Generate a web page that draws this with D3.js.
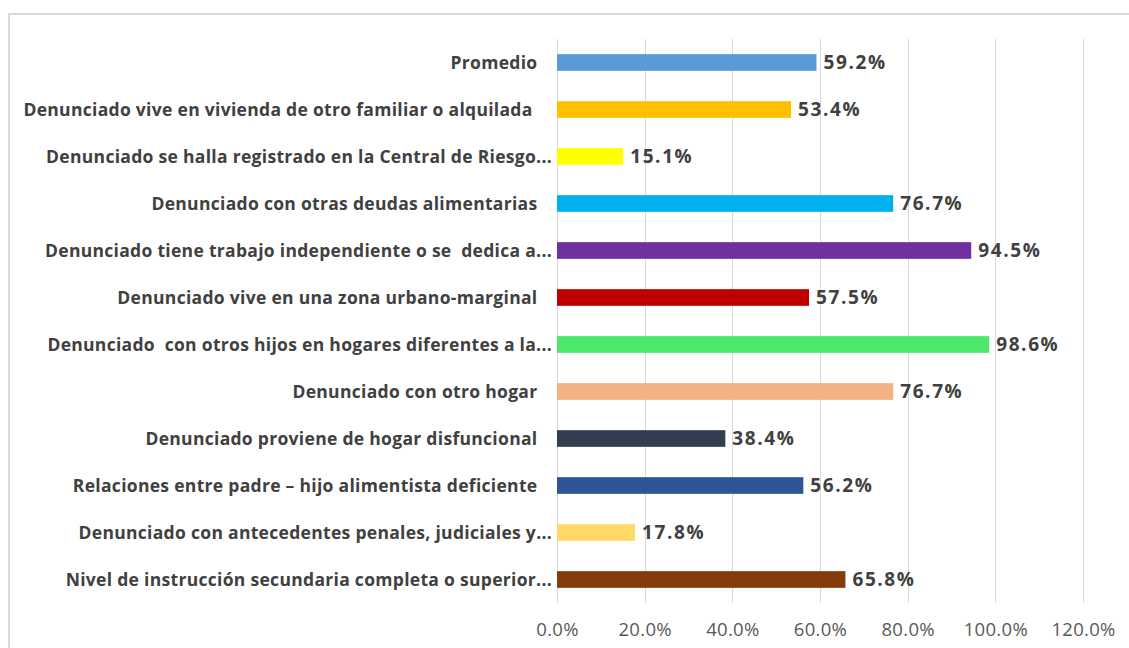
<!DOCTYPE html>
<html>
<head>
<meta charset="utf-8">
<script src="https://cdn.jsdelivr.net/npm/d3@7"></script>
<style>
  body { margin: 0; background: #fff; }
  svg { display: block; }
</style>
</head>
<body>
<div id="chart"></div>
<script>

// data, top row first
var categories = [
    "Promedio   ",
    "Denunciado vive en vivienda de otro familiar o alquilada    ",
    "Denunciado se halla registrado en la Central de Riesgo...",
    "Denunciado con otras deudas alimentarias   ",
    "Denunciado tiene trabajo independiente o se  dedica a...",
    "Denunciado vive en una zona urbano-marginal   ",
    "Denunciado  con otros hijos en hogares diferentes a la...",
    "Denunciado con otro hogar   ",
    "Denunciado proviene de hogar disfuncional   ",
    "Relaciones entre padre \u2013 hijo alimentista deficiente   ",
    "Denunciado con antecedentes penales, judiciales y...",
    "Nivel de instrucción secundaria completa o superior..."
];

var values = [59.2, 53.4, 15.1, 76.7, 94.5, 57.5, 98.6, 76.7, 38.4, 56.2, 17.8, 65.8];

var colors = ["#5B9BD5", "#FFC000", "#FFFF00", "#00B0F0", "#7030A0", "#C00000",
    "#4BE86B", "#F4B183", "#333F50", "#2F5597", "#FFD966", "#843C0C"];

var tickValues = [0, 20, 40, 60, 80, 100, 120];

var W = 1129, H = 648;
var margin = { top: 39, right: 46, bottom: 45, left: 557 };

var svg = d3.select("#chart").append("svg")
    .attr("width", W)
    .attr("height", H);

// chart frame
svg.append("rect")
    .attr("x", 9)
    .attr("y", 14)
    .attr("width", W + 10)
    .attr("height", H + 10)
    .attr("fill", "none")
    .attr("stroke", "#d9d9d9")
    .attr("stroke-width", 2);

var g = svg.append("g")
    .attr("transform", "translate(" + margin.left + "," + margin.top + ")");

var x = d3.scaleLinear()
    .domain([0, 120])
    .range([0, 526]);

var y = d3.scaleBand()
    .domain(categories)
    .range([0, 564])
    .paddingInner(0.645)
    .paddingOuter(0.3225);

// gridlines
g.selectAll(".grid")
    .data(tickValues)
    .enter().append("line")
    .attr("class", "grid")
    .attr("x1", function (d) { return Math.round(x(d)) + 0.5; })
    .attr("x2", function (d) { return Math.round(x(d)) + 0.5; })
    .attr("y1", 0)
    .attr("y2", 564)
    .attr("stroke", "#d9d9d9")
    .attr("stroke-width", 1);

// x tick labels
var xAxis = d3.axisBottom(x)
    .tickValues(tickValues)
    .tickSize(0)
    .tickPadding(20)
    .tickFormat(function (d) { return d.toFixed(1) + "%"; });

g.append("g")
    .attr("class", "x axis")
    .attr("transform", "translate(0,564)")
    .call(xAxis)
    .call(function (sel) { sel.select(".domain").remove(); })
    .selectAll("text")
    .style("font-family", "'Open Sans', sans-serif")
    .style("font-size", "18.5px")
    .style("letter-spacing", "0.3px")
    .attr("fill", "#595959");

// category labels
g.selectAll(".cat")
    .data(categories)
    .enter().append("text")
    .attr("class", "cat")
    .attr("x", -5)
    .attr("y", function (d) { return y(d) + y.bandwidth() / 2; })
    .attr("dy", "0.35em")
    .attr("text-anchor", "end")
    .style("white-space", "pre")
    .style("font-family", "'Open Sans', sans-serif")
    .style("font-weight", "bold")
    .style("font-size", "17.5px")
    .style("letter-spacing", "0.3px")
    .attr("fill", "#404040")
    .text(function (d) { return d; });

// bars
g.selectAll(".bar")
    .data(values)
    .enter().append("rect")
    .attr("class", "bar")
    .attr("x", x(0))
    .attr("y", function (d, i) { return y(categories[i]); })
    .attr("width", function (d) { return x(d) - x(0); })
    .attr("height", y.bandwidth())
    .attr("fill", function (d, i) { return colors[i]; });

// value labels
g.selectAll(".val")
    .data(values)
    .enter().append("text")
    .attr("class", "val")
    .attr("x", function (d) { return x(d) + 7; })
    .attr("y", function (d, i) { return y(categories[i]) + y.bandwidth() / 2; })
    .attr("dy", "0.35em")
    .style("font-family", "'Open Sans', sans-serif")
    .style("font-weight", "bold")
    .style("font-size", "19px")
    .style("letter-spacing", "1.6px")
    .attr("fill", "#404040")
    .text(function (d) { return d.toFixed(1) + "%"; });

</script>
</body>
</html>
